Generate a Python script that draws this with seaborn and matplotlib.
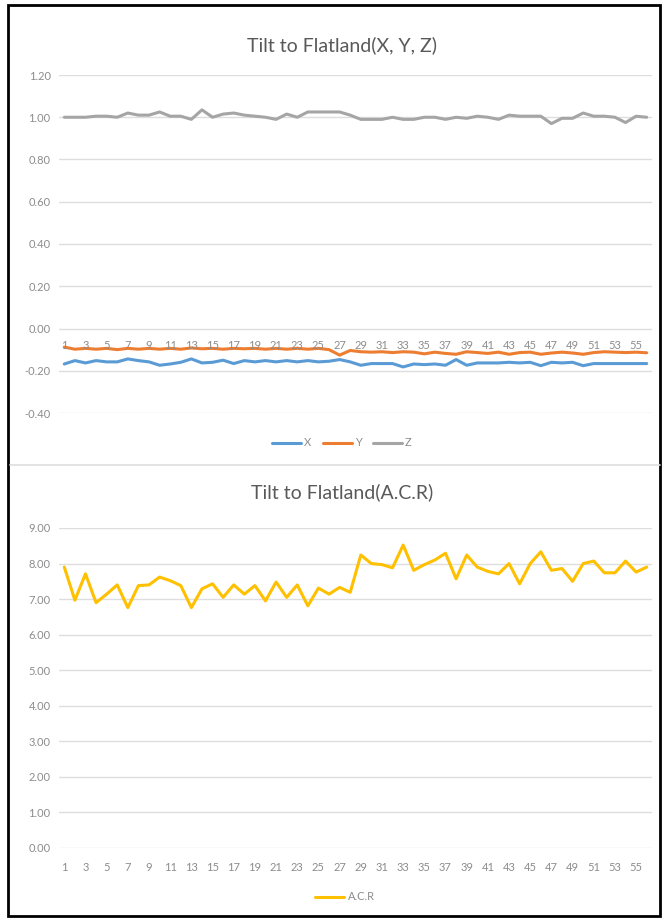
import numpy as np
import pandas as pd
import matplotlib
matplotlib.use("Agg")
import matplotlib.pyplot as plt
from matplotlib.lines import Line2D
from matplotlib.patches import Rectangle
from matplotlib.ticker import FuncFormatter
import seaborn as sns

# Sample index (1..56)
samples = list(range(1, 57))

# Tilt components per sample
tilt_x = [-0.168, -0.152, -0.163, -0.152, -0.158, -0.158, -0.144, -0.152, -0.158, -0.174,
          -0.168, -0.160, -0.144, -0.163, -0.160, -0.150, -0.166, -0.152, -0.158, -0.152,
          -0.158, -0.152, -0.158, -0.152, -0.158, -0.155, -0.147, -0.158, -0.174, -0.166,
          -0.166, -0.166, -0.182, -0.168, -0.171, -0.168, -0.174, -0.147, -0.174, -0.163,
          -0.163, -0.163, -0.160, -0.163, -0.160, -0.176, -0.160, -0.163, -0.160, -0.176,
          -0.166, -0.166, -0.166, -0.166, -0.166, -0.166]
tilt_y = [-0.088, -0.098, -0.094, -0.098, -0.094, -0.100, -0.094, -0.098, -0.094, -0.098,
          -0.094, -0.098, -0.092, -0.096, -0.094, -0.098, -0.094, -0.096, -0.094, -0.098,
          -0.094, -0.098, -0.094, -0.098, -0.094, -0.100, -0.126, -0.104, -0.110, -0.112,
          -0.110, -0.114, -0.110, -0.112, -0.120, -0.112, -0.118, -0.122, -0.110, -0.114,
          -0.118, -0.112, -0.122, -0.114, -0.112, -0.122, -0.116, -0.112, -0.116, -0.122,
          -0.114, -0.110, -0.112, -0.114, -0.112, -0.115]
tilt_z = [1.000, 1.000, 1.000, 1.005, 1.005, 1.000, 1.020, 1.010, 1.010, 1.025,
          1.005, 1.005, 0.990, 1.035, 1.000, 1.015, 1.020, 1.010, 1.005, 1.000,
          0.990, 1.015, 1.000, 1.025, 1.025, 1.025, 1.025, 1.010, 0.990, 0.990,
          0.990, 1.000, 0.990, 0.990, 1.000, 1.000, 0.990, 1.000, 0.995, 1.005,
          1.000, 0.990, 1.010, 1.005, 1.005, 1.005, 0.970, 0.995, 0.995, 1.020,
          1.005, 1.005, 1.000, 0.975, 1.005, 1.000]

# A.C.R per sample
acr = [7.90, 6.97, 7.71, 6.90, 7.14, 7.40, 6.76, 7.38, 7.40, 7.62,
       7.52, 7.38, 6.76, 7.29, 7.43, 7.05, 7.40, 7.14, 7.38, 6.95,
       7.48, 7.05, 7.40, 6.81, 7.31, 7.14, 7.33, 7.19, 8.24, 8.00,
       7.97, 7.88, 8.52, 7.81, 7.97, 8.10, 8.29, 7.57, 8.24, 7.90,
       7.78, 7.71, 8.00, 7.43, 8.00, 8.33, 7.81, 7.86, 7.50, 8.00,
       8.07, 7.74, 7.74, 8.07, 7.76, 7.90]

series_names = ["X", "Y", "Z"]
series_colors = {"X": "#5B9BD5", "Y": "#ED7D31", "Z": "#A5A5A5"}
acr_color = "#FFC000"

top_title = "Tilt to Flatland(X, Y, Z)"
bottom_title = "Tilt to Flatland(A.C.R)"

sns.set_theme(style="white")
plt.rcParams["font.family"] = ["Lato", "DejaVu Sans"]
plt.rcParams["axes.unicode_minus"] = False

W, H = 662, 918
fig = plt.figure(figsize=(W / 100, H / 100), dpi=100)
fig.patch.set_facecolor("white")


def frac_box(x0, y0, x1, y1):
    return [x0 / W, 1 - y1 / H, (x1 - x0) / W, (y1 - y0) / H]


ax1 = fig.add_axes(frac_box(59, 75, 652, 413))
ax2 = fig.add_axes(frac_box(59, 528, 652, 848))

tick_color = "#8C8C8C"
grid_color = "#DEDEDE"
title_color = "#595959"
lw = 2.2

# --- X/Y/Z panel ---
xyz = pd.DataFrame({
    "Sample": samples * 3,
    "Value": tilt_x + tilt_y + tilt_z,
    "Axis": ["X"] * len(samples) + ["Y"] * len(samples) + ["Z"] * len(samples),
})
sns.lineplot(data=xyz, x="Sample", y="Value", hue="Axis", hue_order=series_names,
             palette=series_colors, linewidth=lw, legend=False, ax=ax1)

# --- A.C.R panel ---
acr_df = pd.DataFrame({"Sample": samples, "A.C.R": acr})
sns.lineplot(data=acr_df, x="Sample", y="A.C.R", color=acr_color, linewidth=lw,
             legend=False, ax=ax2)

fmt = FuncFormatter(lambda v, p: f"{v:.2f}")
for ax, lo, hi, step in [(ax1, -0.4, 1.2, 0.2), (ax2, 0.0, 9.0, 1.0)]:
    ax.set_xlim(0.5, 56.5)
    ax.set_ylim(lo, hi)
    ax.set_yticks(np.round(np.arange(lo, hi + step / 2, step), 2))
    ax.yaxis.set_major_formatter(fmt)
    ax.set_xticks(samples[::2])
    ax.set_xticklabels([str(s) for s in samples[::2]])
    ax.set_xlabel("")
    ax.set_ylabel("")
    ax.grid(axis="y", color=grid_color, linewidth=1.0)
    ax.grid(axis="x", visible=False)
    for sp in ax.spines.values():
        sp.set_visible(False)
    ax.tick_params(axis="both", length=0, labelsize=8, colors=tick_color)
    ax.tick_params(axis="y", pad=6)
    ax.set_facecolor("none")

ax1.tick_params(axis="x", pad=8)
ax2.tick_params(axis="x", pad=10)

# Category axis of the X/Y/Z panel crosses at zero
ax1.spines["bottom"].set_position(("data", 0.0))
ax1.xaxis.set_zorder(3)

fig.text(342 / W, 1 - 45 / H, top_title, ha="center", va="center",
         fontsize=14, color=title_color)
fig.text(342 / W, 1 - 492 / H, bottom_title, ha="center", va="center",
         fontsize=14, color=title_color)

handles = [Line2D([], [], color=series_colors[n], linewidth=lw) for n in series_names]
fig.legend(handles, series_names, loc="center", bbox_to_anchor=(342 / W, 1 - 443 / H),
           ncol=3, frameon=False, fontsize=8, handlelength=2.6, handletextpad=0.3,
           columnspacing=1.0, labelcolor=tick_color)
fig.legend([Line2D([], [], color=acr_color, linewidth=lw)], ["A.C.R"], loc="center",
           bbox_to_anchor=(345 / W, 1 - 897 / H), frameon=False, fontsize=8,
           handlelength=2.6, handletextpad=0.3, labelcolor=tick_color)

# Separator between the two charts and the outer frame
fig.add_artist(Line2D([10 / W, 660 / W], [1 - 465 / H, 1 - 465 / H],
                      color=grid_color, linewidth=1.2, transform=fig.transFigure))
fig.add_artist(Rectangle((8 / W, 1 - 916 / H), (660 - 8) / W, (916 - 5) / H,
                         transform=fig.transFigure, fill=False, edgecolor="black",
                         linewidth=2.0))

fig.savefig("out.png", dpi=100)
